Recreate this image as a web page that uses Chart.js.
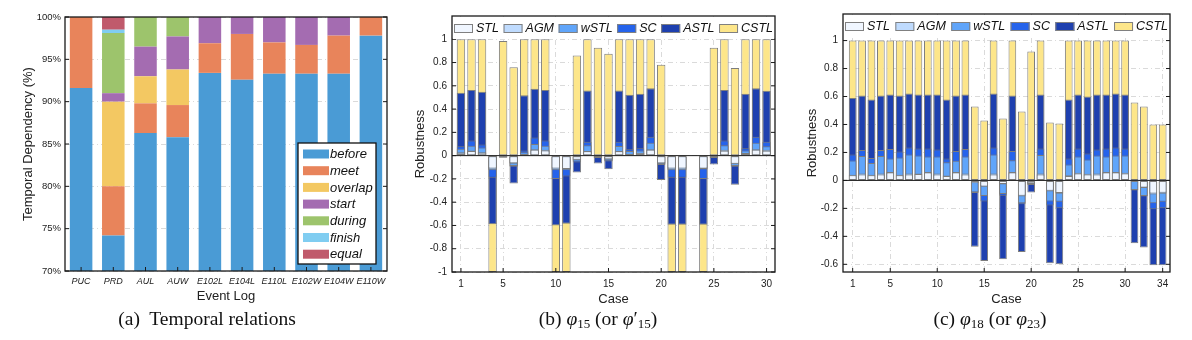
<!DOCTYPE html>
<html>
<head>
<meta charset="utf-8">
<script src="https://cdn.jsdelivr.net/npm/chart.js"></script>
<style>
  body { margin: 0; background: #fff; width: 1192px; height: 340px; position: relative; overflow: hidden; }
  canvas { position: absolute; top: 0; }
  .cap { position: absolute; top: 308px; width: 240px; text-align: center; font-family: "Liberation Serif", "DejaVu Serif", serif; font-size: 19.5px; line-height: 22px; color: #111; }
  .cap sub { font-size: 13px; vertical-align: -3px; line-height: 0; }
</style>
</head>
<body>
<canvas id="chartA" width="392" height="310" style="left:0"></canvas>
<canvas id="chartB" width="380" height="310" style="left:400px"></canvas>
<canvas id="chartC" width="402" height="310" style="left:790px"></canvas>
<div class="cap" style="left:87px">(a)&nbsp; Temporal relations</div>
<div class="cap" style="left:478px">(b) <i>φ</i><sub>15</sub> (or <i>φ</i>′<sub>15</sub>)</div>
<div class="cap" style="left:870px">(c) <i>φ</i><sub>18</sub> (or <i>φ</i><sub>23</sub>)</div>

<script>
// (a) temporal relations per event log (%)
const eventLogs = ['PUC', 'PRD', 'AUL', 'AUW', 'E102L', 'E104L', 'E110L', 'E102W', 'E104W', 'E110W'];
const relations = ['before', 'meet', 'overlap', 'start', 'during', 'finish', 'equal'];
const before  = [91.6, 74.2, 86.3, 85.8, 93.4, 92.6, 93.3, 93.3, 93.3, 97.8];
const meet    = [8.4, 5.8, 3.5, 3.8, 3.5, 5.4, 3.7, 3.4, 4.5, 2.2];
const overlap = [0, 10, 3.2, 4.2, 0, 0, 0, 0, 0, 0];
const start   = [0, 1, 3.5, 3.9, 3.1, 2, 3, 3.3, 2.2, 0];
const during  = [0, 7.1, 3.5, 2.3, 0, 0, 0, 0, 0, 0];
const finish  = [0, 0.4, 0, 0, 0, 0, 0, 0, 0, 0];
const equal   = [0, 1.5, 0, 0, 0, 0, 0, 0, 0, 0];
const pctTicks = [70, 75, 80, 85, 90, 95, 100];

// robustness methods
const methods = ['STL', 'AGM', 'wSTL', 'SC', 'ASTL', 'CSTL'];

// (b) phi15, cases 1..30 (case 23 has no bars)
const cases15 = [1, 2, 3, 4, 5, 6, 7, 8, 9, 10, 11, 12, 13, 14, 15, 16, 17, 18, 19, 20, 21, 22, 23, 24, 25, 26, 27, 28, 29, 30];
const stl15  = [0.02, 0.04, 0.025, -0.11, -0.005, -0.065, 0.01, 0.05, 0.045, -0.11, -0.115, -0.035, 0.037, -0.01, -0.03, 0.037, 0.012, 0.02, 0.05, -0.065, -0.11, -0.11, null, -0.11, -0.005, 0.043, -0.07, 0.018, 0.05, 0.043];
const agm15  = [0.03, 0.045, 0.03, -0.12, -0.01, -0.07, 0.015, 0.055, 0.05, -0.12, -0.12, -0.04, 0.04, -0.015, -0.035, 0.04, 0.015, 0.025, 0.055, -0.07, -0.12, -0.12, null, -0.115, -0.01, 0.05, -0.075, 0.022, 0.055, 0.05];
const wstl15 = [0.06, 0.085, 0.07, -0.125, -0.01, -0.09, 0.03, 0.10, 0.085, -0.125, -0.125, -0.05, 0.09, -0.018, -0.045, 0.083, 0.04, 0.045, 0.11, -0.075, -0.125, -0.125, null, -0.12, -0.015, 0.09, -0.09, 0.045, 0.11, 0.08];
const sc15   = [0.08, 0.13, 0.095, -0.19, -0.015, -0.095, 0.045, 0.155, 0.13, -0.2, -0.18, -0.06, 0.12, -0.02, -0.05, 0.12, 0.054, 0.063, 0.163, -0.08, -0.19, -0.19, null, -0.2, -0.02, 0.13, -0.095, 0.063, 0.163, 0.12];
const astl15 = [0.54, 0.565, 0.55, -0.59, -0.018, -0.24, 0.52, 0.575, 0.565, -0.6, -0.585, -0.145, 0.56, -0.068, -0.118, 0.56, 0.523, 0.532, 0.58, -0.21, -0.595, -0.595, null, -0.595, -0.077, 0.565, -0.25, 0.532, 0.58, 0.558];
const cstl15 = [1, 1, 1, -1, 0.985, 0.76, 1, 1, 1, -1, -1, 0.86, 1, 0.927, 0.875, 1, 1, 1, 1, 0.78, -1, -1, null, -1, 0.927, 1, 0.753, 1, 1, 1];
const caseTicks15 = [1, 5, 10, 15, 20, 25, 30];
const robTicks15 = [-1, -0.8, -0.6, -0.4, -0.2, 0, 0.2, 0.4, 0.6, 0.8, 1];

// (c) phi18, cases 1..34
const cases18 = [1, 2, 3, 4, 5, 6, 7, 8, 9, 10, 11, 12, 13, 14, 15, 16, 17, 18, 19, 20, 21, 22, 23, 24, 25, 26, 27, 28, 29, 30, 31, 32, 33, 34];
const stl18  = [0.036, 0.043, 0.036, 0.043, 0.057, 0.036, 0.043, 0.045, 0.057, 0.043, 0.031, 0.057, 0.043, -0.01, -0.043, 0.043, -0.026, 0.057, -0.11, -0.02, 0.043, -0.074, -0.09, 0.031, 0.05, 0.043, 0.043, 0.057, 0.057, 0.05, -0.005, -0.05, -0.093, -0.088];
const agm18  = [0.04, 0.05, 0.04, 0.05, 0.06, 0.04, 0.05, 0.05, 0.06, 0.05, 0.035, 0.06, 0.05, -0.02, -0.045, 0.05, -0.03, 0.06, -0.115, -0.025, 0.05, -0.08, -0.095, 0.036, 0.055, 0.047, 0.05, 0.06, 0.06, 0.055, -0.01, -0.055, -0.1, -0.095];
const wstl18 = [0.143, 0.174, 0.124, 0.174, 0.157, 0.164, 0.186, 0.179, 0.171, 0.171, 0.129, 0.14, 0.171, -0.085, -0.112, 0.186, -0.098, 0.145, -0.164, -0.03, 0.181, -0.15, -0.152, 0.114, 0.171, 0.15, 0.179, 0.171, 0.179, 0.179, -0.068, -0.112, -0.164, -0.152];
const sc18   = [0.186, 0.217, 0.16, 0.217, 0.224, 0.207, 0.236, 0.229, 0.229, 0.221, 0.157, 0.21, 0.224, -0.09, -0.15, 0.236, -0.11, 0.21, -0.17, -0.033, 0.229, -0.179, -0.2, 0.157, 0.229, 0.193, 0.221, 0.229, 0.236, 0.229, -0.072, -0.115, -0.207, -0.2];
const astl18 = [0.59, 0.607, 0.579, 0.607, 0.614, 0.607, 0.621, 0.614, 0.614, 0.614, 0.579, 0.607, 0.614, -0.475, -0.576, 0.621, -0.564, 0.607, -0.512, -0.086, 0.614, -0.593, -0.6, 0.579, 0.614, 0.6, 0.614, 0.614, 0.621, 0.614, -0.45, -0.479, -0.607, -0.607];
const cstl18 = [1, 1, 1, 1, 1, 1, 1, 1, 1, 1, 1, 1, 1, 0.529, 0.429, 1, 0.443, 1, 0.493, 0.921, 1, 0.414, 0.407, 1, 1, 1, 1, 1, 1, 1, 0.557, 0.529, 0.4, 0.4];
const caseTicks18 = [1, 5, 10, 15, 20, 25, 30, 34];
const robTicks18 = [-0.6, -0.4, -0.2, 0, 0.2, 0.4, 0.6, 0.8, 1];

const relationColors = ['#4a9bd5', '#e8845b', '#f3c862', '#a46cb1', '#9dc46c', '#80cdf1', '#c05a6c'];
const methodColors = ['#f0f6ff', '#bfdbfe', '#60a5fa', '#2563eb', '#1e40af', '#fde68a'];

Chart.defaults.font.family = '"Liberation Sans", Arial, Helvetica, sans-serif';
Chart.defaults.color = '#222';

// black box round the plot, ticks pointing inward, optional zero line
const framePlugin = {
  id: 'frame',
  afterDatasetsDraw(chart, args, opts) {
    const { ctx, chartArea: a, scales: { x, y } } = chart;
    ctx.save();
    ctx.strokeStyle = '#1a1a1a';
    if (opts.zeroLine) {
      const py = y.getPixelForValue(0);
      ctx.lineWidth = 1;
      ctx.beginPath(); ctx.moveTo(a.left, py); ctx.lineTo(a.right, py); ctx.stroke();
    }
    ctx.lineWidth = 1;
    y.ticks.forEach((t, i) => {
      const py = y.getPixelForTick(i);
      ctx.beginPath();
      ctx.moveTo(a.left, py); ctx.lineTo(a.left + 4, py);
      ctx.moveTo(a.right - 4, py); ctx.lineTo(a.right, py);
      ctx.stroke();
    });
    x.ticks.forEach((t, i) => {
      const px = x.getPixelForTick(i);
      ctx.beginPath(); ctx.moveTo(px, a.bottom); ctx.lineTo(px, a.bottom - 4); ctx.stroke();
    });
    ctx.lineWidth = 1.3;
    ctx.strokeRect(a.left, a.top, a.right - a.left, a.bottom - a.top);
    ctx.restore();
  }
};

// legend drawn inside the plot area
const legendPlugin = {
  id: 'boxLegend',
  afterDraw(chart, args, opts) {
    const { ctx, chartArea: a } = chart;
    const sets = chart.data.datasets;
    ctx.save();
    ctx.font = 'italic ' + opts.fontSize + 'px "Liberation Sans", Arial, sans-serif';
    ctx.textBaseline = 'middle';
    if (opts.mode === 'column') {
      const w = 78, h = 121;
      const left = a.right - 11 - w, top = a.bottom - 7 - h;
      ctx.fillStyle = '#fff';
      ctx.fillRect(left, top, w, h);
      ctx.strokeStyle = '#111'; ctx.lineWidth = 1.3;
      ctx.strokeRect(left, top, w, h);
      sets.forEach((ds, i) => {
        const cy = top + 11 + i * 16.7;
        ctx.fillStyle = ds.backgroundColor;
        ctx.fillRect(left + 5, cy - 4.5, 26, 9);
        ctx.fillStyle = '#111';
        ctx.fillText(ds.label, left + 32, cy + 0.5);
      });
    } else {
      const boxW = 19, boxH = 9;
      const widths = sets.map(ds => ctx.measureText(ds.label).width);
      const used = widths.reduce((s, v) => s + v + boxW + 3, 0);
      const x0 = a.left + 2, x1 = a.right - 2;
      const gap = (x1 - x0 - used) / (sets.length - 1);
      const cy = a.top + 12.5;
      ctx.fillStyle = '#fff';
      ctx.fillRect(a.left + 1, a.top + 1, a.right - a.left - 2, 22);
      let cx = x0;
      sets.forEach((ds, i) => {
        ctx.fillStyle = ds.backgroundColor;
        ctx.fillRect(cx, cy - boxH / 2, boxW, boxH);
        ctx.strokeStyle = '#808080'; ctx.lineWidth = 1;
        ctx.strokeRect(cx + 0.5, cy - boxH / 2 + 0.5, boxW - 1, boxH - 1);
        ctx.fillStyle = '#111';
        ctx.fillText(ds.label, cx + boxW + 3, cy + 0.5);
        cx += boxW + 3 + widths[i] + gap;
      });
    }
    ctx.restore();
  }
};

const gridDash = [5, 3, 1, 3];

new Chart(document.getElementById('chartA'), {
  type: 'bar',
  data: {
    labels: eventLogs,
    datasets: [before, meet, overlap, start, during, finish, equal].map((vals, k) => ({
      label: relations[k],
      data: vals,
      backgroundColor: relationColors[k],
      borderWidth: 0,
      categoryPercentage: 0.7,
      barPercentage: 1
    }))
  },
  options: {
    responsive: false,
    animation: false,
    layout: { padding: { left: 17, right: 5, top: 17, bottom: 0 } },
    plugins: {
      legend: { display: false },
      tooltip: { enabled: false },
      boxLegend: { mode: 'column', fontSize: 13 },
      frame: { zeroLine: false }
    },
    scales: {
      x: {
        stacked: true,
        grid: { display: false, drawTicks: false },
        border: { display: false },
        ticks: { font: { size: 9, style: 'italic' }, padding: 5, autoSkip: false, maxRotation: 0 },
        title: { display: true, text: 'Event Log', font: { size: 13 }, padding: { top: 0, bottom: 6 } },
        afterFit(s) { s.height = 39; }
      },
      y: {
        stacked: true,
        min: 70,
        max: 100,
        afterBuildTicks(s) { s.ticks = pctTicks.map(v => ({ value: v })); },
        ticks: { callback: v => v + '%', font: { size: 9.5 }, padding: 4 },
        grid: { color: '#dadada', drawTicks: false },
        border: { display: false, dash: gridDash },
        title: { display: true, text: 'Temporal Dependency (%)', font: { size: 13 }, padding: { top: 4, bottom: 4 } },
        afterFit(s) { s.width = 48; }
      }
    }
  },
  plugins: [framePlugin, legendPlugin]
});

function robustnessChart(id, cases, series, caseTicks, robTicks, o) {
  return new Chart(document.getElementById(id), {
    type: 'bar',
    data: {
      labels: cases,
      datasets: series.map((vals, k) => ({
        label: methods[k],
        data: vals,
        backgroundColor: methodColors[k],
        borderColor: '#7d7d7d',
        borderWidth: 1,
        borderSkipped: false,
        categoryPercentage: o.barFrac,
        barPercentage: 1
      }))
    },
    options: {
      responsive: false,
      animation: false,
      layout: { padding: { left: o.padLeft, right: o.padRight, top: o.padTop, bottom: 0 } },
      plugins: {
        legend: { display: false },
        tooltip: { enabled: false },
        boxLegend: { mode: 'row', fontSize: 12.5 },
        frame: { zeroLine: true }
      },
      scales: {
        x: {
          type: 'linear',
          stacked: true,
          offset: false,
          min: o.xMin,
          max: o.xMax,
          afterBuildTicks(s) { s.ticks = caseTicks.map(v => ({ value: v })); },
          grid: { color: '#dadada', drawTicks: false, offset: false },
          border: { display: false, dash: gridDash },
          ticks: { callback: v => String(v), font: { size: 10 }, padding: 6, autoSkip: false, maxRotation: 0 },
          title: { display: true, text: 'Case', font: { size: 13 }, padding: { top: 0, bottom: 3 } },
          afterFit(s) { s.height = 38; }
        },
        y: {
          stacked: false,
          min: o.yMin,
          max: o.yMax,
          afterBuildTicks(s) { s.ticks = robTicks.map(v => ({ value: v })); },
          ticks: { callback: v => String(v), font: { size: 10 }, padding: 5 },
          grid: { color: '#dadada', drawTicks: false },
          border: { display: false, dash: gridDash },
          title: { display: true, text: 'Robustness', font: { size: 13 }, padding: { top: 4, bottom: 4 } },
          afterFit(s) { s.width = o.yWidth; }
        }
      }
    },
    plugins: [framePlugin, legendPlugin]
  });
}

robustnessChart('chartB', cases15, [stl15, agm15, wstl15, sc15, astl15, cstl15], caseTicks15, robTicks15,
  { barFrac: 0.8, padLeft: 9, padRight: 5, padTop: 16, yWidth: 43, xMin: 0.15, xMax: 30.8, yMin: -1, yMax: 1.2 });

robustnessChart('chartC', cases18, [stl18, agm18, wstl18, sc18, astl18, cstl18], caseTicks18, robTicks18,
  { barFrac: 0.82, padLeft: 11, padRight: 22, padTop: 14, yWidth: 42, xMin: -0.03, xMax: 34.78, yMin: -0.655, yMax: 1.19 });
</script>
</body>
</html>
